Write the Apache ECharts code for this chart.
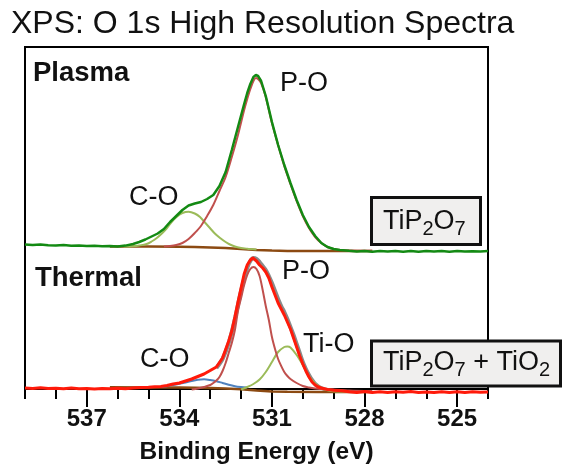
<!DOCTYPE html>
<html>
<head>
<meta charset="utf-8">
<script src="https://cdn.jsdelivr.net/npm/echarts@6/dist/echarts.min.js"></script>
<style>html,body{margin:0;padding:0;background:#fff}#c{width:563px;height:470px}</style>
</head>
<body>
<div id="c"></div>
<script>
// ---------- data (binding energy eV, intensity a.u.) ----------
const xTickLabels = [537, 534, 531, 528, 525];

// Plasma panel
const plasmaData = [[539,12.5],[538.75,12],[538.5,12.6],[538.25,11.8],[538,11.4],[537.75,11.9],[537.5,11.2],[537.25,11.6],[537,11],[536.75,11.3],[536.5,10.7],[536.25,11.1],[536,10.6],[535.75,11.4],[535.5,13],[535.3,15],[535.1,17.5],[534.9,20.5],[534.7,23.5],[534.5,28],[534.3,35],[534.1,41],[533.9,47],[533.7,51.5],[533.5,53.5],[533.3,55],[533.1,58],[532.9,62],[532.7,71],[532.5,85],[532.3,107],[532.1,130],[531.9,153],[531.8,164],[531.7,173],[531.6,180],[531.52,182],[531.45,181],[531.35,176],[531.2,161],[531.0,135],[530.8,112],[530.6,92],[530.4,74],[530.2,57],[530.0,42],[529.8,30],[529.6,21],[529.4,14],[529.2,10],[529.0,8],[528.8,7],[528.5,6.2],[528.25,5.6],[528,6.1],[527.75,5.3],[527.5,5.9],[527.25,5.4],[527,6.1],[526.75,5.3],[526.5,5.9],[526.25,5.2],[526,6],[525.75,5.5],[525.5,5.9],[525.25,5.3],[525,6],[524.75,5.4],[524.5,5.8],[524.25,5.4],[524,5.9]];
const plasmaPO = [[534.5,10.5],[534.3,11],[534.1,12],[533.9,14],[533.7,18],[533.5,24],[533.3,31],[533.1,41],[532.9,52],[532.7,66],[532.5,80],[532.3,100],[532.1,122],[531.9,147],[531.8,158],[531.7,168],[531.6,176],[531.52,179],[531.45,178],[531.35,174],[531.2,160],[531.0,134],[530.8,112],[530.6,91],[530.4,73],[530.2,56],[530.0,41],[529.8,29],[529.6,20],[529.4,14],[529.2,10],[529.0,8],[528.8,7],[528.5,6.5],[528.0,6.2],[527.75,6.2]];
const plasmaCO = [[535.8,10.5],[535.5,10.8],[535.3,11.5],[535.06,13],[534.9,15.5],[534.73,19],[534.55,24],[534.4,29],[534.25,35],[534.08,40.3],[533.9,44],[533.7,45.3],[533.5,43.5],[533.33,40],[533.17,34.5],[533.01,29],[532.85,23.5],[532.68,19],[532.5,15],[532.36,12.5],[532.2,10.5],[532.04,9.2],[531.8,8.3],[531.5,7.5]];
const plasmaBG = [[536.25,10.5],[535,10.4],[534,10.2],[533.5,10],[533,9.6],[532.5,9],[532,8],[531.5,7],[531,6.4],[530.5,6.1],[529.5,6],[527.75,6]];

// Thermal panel
const thermalData = [[539,7],[538.75,6.6],[538.5,7.2],[538.25,6.4],[538,6.8],[537.75,6.2],[537.5,6.9],[537.25,6.3],[537,6.6],[536.75,6],[536.5,6.5],[536.25,6.2],[536,6.7],[535.75,6.3],[535.5,7],[535.25,7.4],[535,7.8],[534.8,8.2],[534.6,8.6],[534.4,9.5],[534.2,11],[534.0,12],[533.8,14],[533.6,16],[533.4,18.5],[533.2,21],[533.0,24.5],[532.8,28],[532.6,37],[532.4,54],[532.3,64],[532.2,78],[532.1,93],[532.0,107],[531.9,121],[531.8,130],[531.7,135],[531.62,137],[531.5,134],[531.4,130],[531.3,127],[531.2,123],[531.1,117],[531.0,108],[530.9,100],[530.8,92],[530.7,86],[530.6,80],[530.5,73],[530.4,66],[530.3,57],[530.2,48],[530.1,39],[530.0,31],[529.9,24],[529.8,18],[529.7,13],[529.6,10],[529.5,8],[529.4,7],[529.2,5.5],[529.0,4.8],[528.75,4.3],[528.5,3.3],[528.25,2.6],[528,3.4],[527.75,2.5],[527.5,3.2],[527.25,2.4],[527,3.3],[526.75,2.7],[526.5,3.4],[526.25,2.5],[526,3.1],[525.75,2.4],[525.5,3.3],[525.25,2.6],[525,3.2],[524.75,2.4],[524.5,3.3],[524.25,2.7],[524,3]];
const thermalEnvelope = [[532.8,27],[532.6,36],[532.4,52],[532.2,76],[532.0,104],[531.8,127],[531.7,134],[531.6,137],[531.5,136],[531.4,133],[531.3,129],[531.2,125],[531.1,119],[531.0,112],[530.9,104],[530.8,96],[530.7,89],[530.6,83],[530.5,76],[530.4,68],[530.3,60],[530.2,51],[530.1,42],[530.0,33],[529.9,26],[529.8,20],[529.7,15],[529.6,11],[529.5,8.5],[529.4,7],[529.2,5],[529.0,4]];
const thermalPO = [[533.6,5.5],[533.4,6.5],[533.2,8],[533.0,10],[532.9,12],[532.8,14.5],[532.7,18],[532.6,24],[532.5,32],[532.4,42],[532.3,52],[532.2,65],[532.1,84],[532.0,97],[531.9,110],[531.8,120],[531.7,126],[531.6,128],[531.5,126],[531.4,119],[531.3,105],[531.2,89],[531.1,75],[531.0,58],[530.9,46],[530.8,36],[530.7,29],[530.6,23],[530.5,19],[530.4,16],[530.2,12],[530.0,9],[529.8,7.5],[529.6,6.5],[529.4,6],[529.0,5.5],[528.5,4.5],[527.75,4]];
const thermalTiO = [[532.0,5.5],[531.8,8],[531.6,11],[531.4,15.5],[531.2,23],[531.0,33],[530.8,43],[530.6,48],[530.5,48.5],[530.4,47.5],[530.2,40],[530.0,30],[529.8,19],[529.6,11.5],[529.4,7],[529.2,4.8],[529.0,3.8],[528.5,3.2],[527.75,3]];
const thermalCO = [[534.6,8],[534.4,8.8],[534.2,10],[534.0,11.2],[533.8,12.5],[533.6,14],[533.4,15.2],[533.2,15.7],[533.0,15],[532.8,13.8],[532.6,12],[532.4,10.2],[532.2,8.8],[532.0,8],[531.8,7.5]];
const thermalBG = [[536.25,7.8],[535,7.6],[534,7.4],[533,7],[532.5,6.5],[532,5.8],[531.5,4.5],[531,3.6],[530.5,3.2],[529.5,3],[527.75,3]];

// ---------- chart ----------
const FONT = 'Liberation Sans, Arial, sans-serif';
const chart = echarts.init(document.getElementById('c'), null, {renderer: 'canvas'});

const L = 25, R = 75, T = 47, B = 75;
const xBase = {min: 524, max: 539, inverse: true, type: 'value'};
const hiddenX = (g) => Object.assign({}, xBase, {gridIndex: g, show: false});

function line(name, data, color, width, xi, yi, z, smooth) {
  return {
    type: 'line', name: name, data: data, xAxisIndex: xi, yAxisIndex: yi,
    showSymbol: false, symbol: 'none', smooth: smooth ? 0.3 : false, z: z,
    lineStyle: {color: color, width: width}, silent: true, animation: false
  };
}

const GREEN = '#138a13', RED = '#ff1a0a', PO = '#c0504d', YG = '#9bbb59', BLUE = '#4f81bd', BROWN = '#8c4a12', GRAY = '#8a8a8a';

const option = {
  animation: false,
  textStyle: {fontFamily: FONT},
  grid: [
    {left: L, right: R, top: T, bottom: B, show: true, borderColor: '#000', borderWidth: 2, backgroundColor: 'transparent'},
    {left: L, right: R, top: T, height: 210},
    {left: L, right: R, top: 257, bottom: B}
  ],
  xAxis: [
    Object.assign({}, xBase, {
      gridIndex: 0, interval: 1,
      axisLine: {show: true, lineStyle: {color: '#000', width: 2}},
      axisTick: {show: true, length: 10, lineStyle: {color: '#000', width: 2}},
      axisLabel: {customValues: xTickLabels, margin: 18, color: '#111', fontSize: 24, fontWeight: 'bold', fontFamily: FONT},
      splitLine: {show: false},
      name: 'Binding Energy (eV)', nameLocation: 'middle', nameGap: 51,
      nameTextStyle: {fontSize: 24.5, fontWeight: 'bold', color: '#111', fontFamily: FONT}
    }),
    Object.assign({}, xBase, {
      gridIndex: 0, position: 'bottom',
      axisLine: {show: false},
      axisTick: {show: true, customValues: xTickLabels, length: 18, lineStyle: {color: '#000', width: 2}},
      axisLabel: {show: false}, splitLine: {show: false}
    }),
    hiddenX(1),
    hiddenX(2)
  ],
  yAxis: [
    {gridIndex: 0, type: 'value', min: 0, max: 1, show: false},
    {gridIndex: 1, type: 'value', min: 0, max: 210, show: false},
    {gridIndex: 2, type: 'value', min: 0, max: 138, show: false}
  ],
  series: [
    line('Plasma background', plasmaBG, BROWN, 2.5, 2, 1, 2, false),
    line('Plasma C-O', plasmaCO, YG, 2, 2, 1, 3, true),
    line('Plasma P-O', plasmaPO, PO, 2, 2, 1, 3, true),
    line('Plasma', plasmaData, GREEN, 2.5, 2, 1, 5, false),
    line('Thermal envelope', thermalEnvelope, GRAY, 4, 3, 2, 1, true),
    line('Thermal background', thermalBG, BROWN, 2.5, 3, 2, 2, false),
    line('Thermal C-O', thermalCO, BLUE, 2, 3, 2, 3, true),
    line('Thermal Ti-O', thermalTiO, YG, 2, 3, 2, 3, true),
    line('Thermal P-O', thermalPO, PO, 2, 3, 2, 3, true),
    line('Thermal', thermalData, RED, 3, 3, 2, 5, false)
  ],
  graphic: [
    {type: 'text', x: 11, y: 24, z: 10, style: {text: 'XPS: O 1s High Resolution Spectra', fontSize: 32, fontFamily: FONT, fill: '#111', verticalAlign: 'middle'}},
    {type: 'text', x: 33, y: 73, z: 10, style: {text: 'Plasma', fontSize: 27.5, fontWeight: 'bold', fontFamily: FONT, fill: '#111', verticalAlign: 'middle'}},
    {type: 'text', x: 35, y: 278, z: 10, style: {text: 'Thermal', fontSize: 27.5, fontWeight: 'bold', fontFamily: FONT, fill: '#111', verticalAlign: 'middle'}},
    {type: 'text', x: 280, y: 84, z: 10, style: {text: 'P-O', fontSize: 27, fontFamily: FONT, fill: '#111', verticalAlign: 'middle'}},
    {type: 'text', x: 129, y: 198, z: 10, style: {text: 'C-O', fontSize: 27, fontFamily: FONT, fill: '#111', verticalAlign: 'middle'}},
    {type: 'text', x: 282, y: 272, z: 10, style: {text: 'P-O', fontSize: 27, fontFamily: FONT, fill: '#111', verticalAlign: 'middle'}},
    {type: 'text', x: 303, y: 345, z: 10, style: {text: 'Ti-O', fontSize: 27, fontFamily: FONT, fill: '#111', verticalAlign: 'middle'}},
    {type: 'text', x: 140, y: 360, z: 10, style: {text: 'C-O', fontSize: 27, fontFamily: FONT, fill: '#111', verticalAlign: 'middle'}},
    {type: 'rect', z: 20, shape: {x: 371.5, y: 197.5, width: 109, height: 47}, style: {fill: '#f0efee', stroke: '#111', lineWidth: 3}},
    {type: 'text', x: 383, y: 221.5, z: 21, style: {
      text: '{n|TiP}{s|2}{n|O}{s|7}', fontFamily: FONT, fill: '#111', verticalAlign: 'middle',
      rich: {n: {fontSize: 27, fontFamily: FONT, fill: '#111'}, s: {fontSize: 20, fontFamily: FONT, fill: '#111', padding: [15, 0, 0, 0]}}
    }},
    {type: 'rect', z: 20, shape: {x: 371.5, y: 341, width: 189, height: 45}, style: {fill: '#f0efee', stroke: '#111', lineWidth: 3}},
    {type: 'text', x: 383, y: 363, z: 21, style: {
      text: '{n|TiP}{s|2}{n|O}{s|7}{n| + TiO}{s|2}', fontFamily: FONT, fill: '#111', verticalAlign: 'middle',
      rich: {n: {fontSize: 27, fontFamily: FONT, fill: '#111'}, s: {fontSize: 20, fontFamily: FONT, fill: '#111', padding: [15, 0, 0, 0]}}
    }}
  ]
};
chart.setOption(option);
</script>
</body>
</html>
